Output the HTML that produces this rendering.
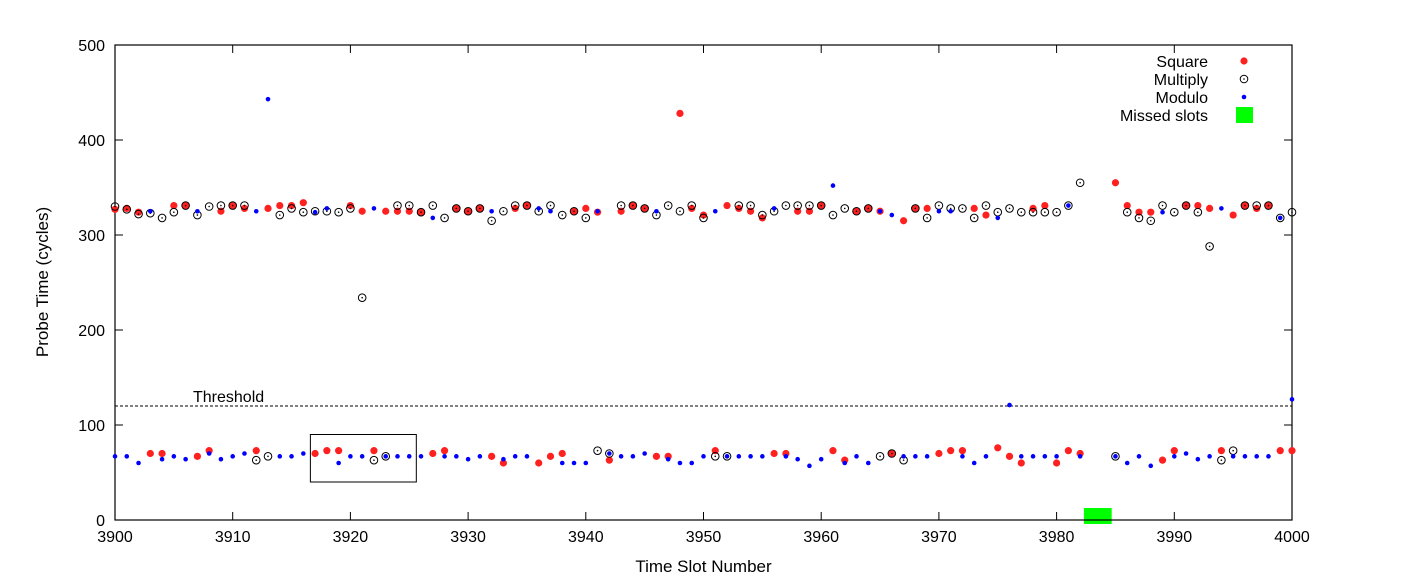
<!DOCTYPE html>
<html><head><meta charset="utf-8"><style>
body{margin:0;background:#fff}
svg{display:block;font-family:"Liberation Sans",sans-serif}
</style></head><body>
<svg id="chart" width="1402" height="586"></svg>
<script>
const slots=[];for(let s=3900;s<=4000;s++)slots.push(s);
const squareVals=[327,328,324,70,70,331,331,67,73,325,331,328,73,328,331,331,334,70,73,73,331,325,73,325,325,325,324,70,73,328,325,328,67,60,328,331,60,67,70,325,328,324,63,325,331,328,67,67,428,328,321,73,331,328,325,318,70,70,325,325,331,73,63,325,328,325,70,315,328,328,70,73,73,328,321,76,67,60,328,331,60,73,70,null,null,355,331,324,324,63,73,331,331,328,73,321,331,328,331,73,73];
const multiplyVals=[330,327,322,323,318,324,331,321,330,331,331,331,63,67,321,328,324,325,325,324,328,234,63,67,331,331,324,331,318,328,325,328,315,325,331,331,325,331,321,325,318,73,70,331,331,328,321,331,325,331,318,67,67,331,331,321,325,331,331,331,331,321,328,325,328,67,70,63,328,318,331,328,328,318,331,324,328,324,324,324,324,331,355,null,null,67,324,318,315,331,324,331,324,288,63,73,331,331,331,318,324];
const moduloVals=[67,67,60,325,64,67,64,325,70,64,67,70,325,443,67,67,70,324,328,60,67,67,328,67,67,67,67,318,67,67,64,67,325,64,67,67,328,325,60,60,60,325,70,67,67,70,325,64,60,60,67,325,67,67,67,67,328,67,64,57,64,352,60,67,60,325,321,67,67,67,325,325,67,60,67,318,121,67,67,67,67,331,67,null,null,67,60,67,57,324,67,70,64,67,328,67,67,67,67,318,127];
const xTicks=[3900,3910,3920,3930,3940,3950,3960,3970,3980,3990,4000];
const yTicks=[0,100,200,300,400,500];
const threshold=120;
const missedSlots=[3983,3984];

const NS="http://www.w3.org/2000/svg";
const svg=document.getElementById('chart');
const X0=115,X1=1292,Y0=520,Y1=45;
const xs=v=>X0+(v-3900)/100*(X1-X0);
const ys=v=>Y0-(v/500)*(Y0-Y1);
function mk(tag,attrs,parent){const e=document.createElementNS(NS,tag);for(const k in attrs)e.setAttribute(k,attrs[k]);(parent||svg).appendChild(e);return e;}

const gMiss=mk('g',{});


mk('rect',{x:xs(missedSlots[0])-8,y:ys(0)-12,width:xs(missedSlots[1])-xs(missedSlots[0])+16,height:16,fill:'#00ff00'},gMiss);

const frame=mk('rect',{x:X0,y:Y1,width:X1-X0,height:Y0-Y1,fill:'none',stroke:'#000','stroke-width':1.2});



xTicks.forEach(t=>{
  const x=xs(t);
  mk('line',{x1:x,y1:Y0,x2:x,y2:Y0-8,stroke:'#000'});
  mk('line',{x1:x,y1:Y1,x2:x,y2:Y1+8,stroke:'#000'});
  const tx=mk('text',{x:x,y:Y0+22,'text-anchor':'middle','font-size':16});
  tx.textContent=t;
  
  
});
yTicks.forEach(t=>{
  const y=ys(t);
  mk('line',{x1:X0,y1:y,x2:X0+8,y2:y,stroke:'#000'});
  mk('line',{x1:X1,y1:y,x2:X1-8,y2:y,stroke:'#000'});
  const tx=mk('text',{x:X0-10,y:y+6,'text-anchor':'end','font-size':16});
  tx.textContent=t;
  
  
});

const xt=mk('text',{x:(X0+X1)/2,y:572,'text-anchor':'middle','font-size':17});
xt.textContent='Time Slot Number';


const yt=mk('text',{x:48,y:282,'text-anchor':'middle','font-size':17,transform:'rotate(-90 48 282)'});
yt.textContent='Probe Time (cycles)';



const th=mk('line',{x1:X0,y1:ys(threshold),x2:X1,y2:ys(threshold),stroke:'#000','stroke-dasharray':'3,2','stroke-width':1});


const thl=mk('text',{x:193,y:ys(threshold)-4,'font-size':16});
thl.textContent='Threshold';



const hb=mk('rect',{x:xs(3916.6),y:ys(90),width:xs(3925.6)-xs(3916.6),height:ys(40)-ys(90),fill:'none',stroke:'#000','stroke-width':1});



function sqMark(x,y,g){mk('circle',{cx:x,cy:y,r:3.6,fill:'#ff2020'},g);}
function mulMark(x,y,g){mk('circle',{cx:x,cy:y,r:3.8,fill:'none',stroke:'#000','stroke-width':1},g);mk('circle',{cx:x,cy:y,r:0.8,fill:'#000'},g);}
function modMark(x,y,g){mk('circle',{cx:x,cy:y,r:2.3,fill:'#0000ff'},g);}

const gSq=mk('g',{});


const gMul=mk('g',{});


const gMod=mk('g',{});


slots.forEach((s,i)=>{
  if(squareVals[i]!=null)sqMark(xs(s),ys(squareVals[i]),gSq);
  if(multiplyVals[i]!=null)mulMark(xs(s),ys(multiplyVals[i]),gMul);
  if(moduloVals[i]!=null)modMark(xs(s),ys(moduloVals[i]),gMod);
});

const legend=[['Square',sqMark],['Multiply',mulMark],['Modulo',modMark],['Missed slots',null]];
legend.forEach((l,i)=>{
  const y=61+i*18;
  const g=mk('g',{});
  
  
  const t=mk('text',{x:1208,y:y+6,'text-anchor':'end','font-size':16},g);
  t.textContent=l[0];
  if(l[1])l[1](1244,y,g);else mk('rect',{x:1236,y:y-8,width:17,height:16,fill:'#00ff00'},g);
});
</script>
</body></html>
